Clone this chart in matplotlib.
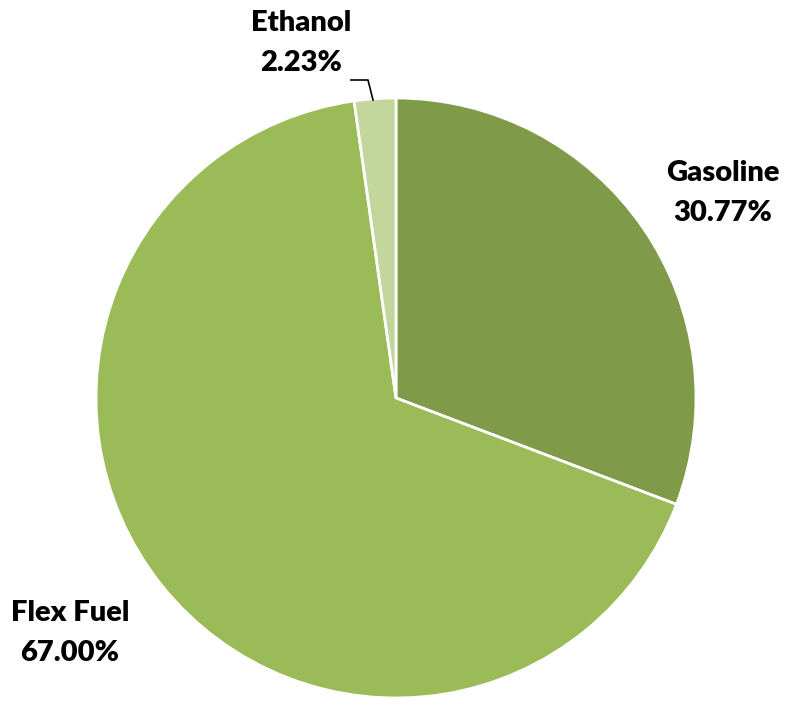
import matplotlib.pyplot as plt

# данные с картинки
fuels = ['Gasoline', 'Flex Fuel', 'Ethanol']
shares = [30.77, 67.00, 2.23]
colors = ['#7F9A48', '#9BBB59', '#C3D69B']

fig = plt.figure(figsize=(7.86, 7.06), dpi=100)
ax = fig.add_axes([0, 0, 1, 1])

wedges, _ = ax.pie(shares, colors=colors, startangle=90, counterclock=False,
                   center=(396, 308), radius=300,
                   wedgeprops=dict(edgecolor='white', linewidth=2))
# pie сам ставит пределы, поэтому после него
ax.set_xlim(0, 786)
ax.set_ylim(0, 706)
ax.set_aspect('equal')
ax.axis('off')

font = dict(family=['Lato', 'DejaVu Sans'], fontweight='heavy', fontsize=21,
            ha='center', va='center', linespacing=1.65)

# подписи
ax.text(723, 513, f'{fuels[0]}\n{shares[0]:.2f}%', **font)
ax.text(70, 73, f'{fuels[1]}\n{shares[1]:.2f}%', **font)
ax.text(301, 663, f'{fuels[2]}\n{shares[2]:.2f}%', **font)
# выноска для этанола
ax.plot([351, 368, 373], [626, 626, 606], color='black', lw=1.2)

fig.savefig('out.png', dpi=100)
